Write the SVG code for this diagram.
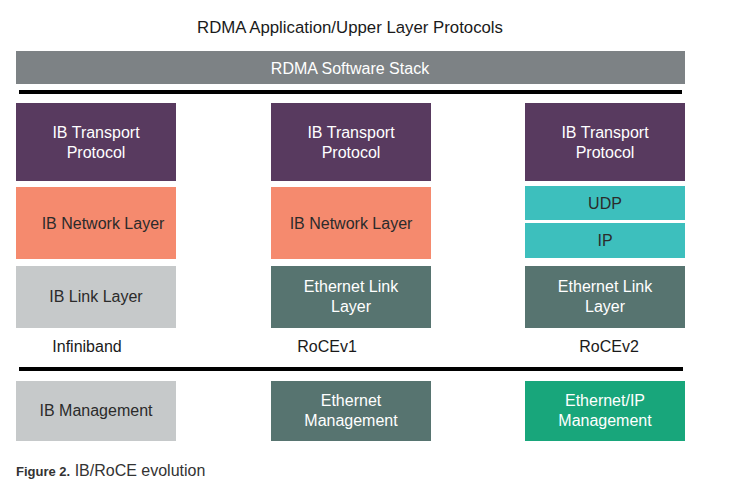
<svg xmlns="http://www.w3.org/2000/svg" width="752" height="484" viewBox="0 0 752 484">
<style>
text{font-family:"Liberation Sans",Arial,sans-serif;font-size:16px;text-anchor:middle}
.w{fill:#ffffff}
.d{fill:#2b2b2b}
.k{fill:#1a1a1a}
.purple{fill:#583A5F}
.salmon{fill:#F58A6E}
.lgray{fill:#C6C9CA}
.teal{fill:#577470}
.cyan{fill:#3DBFBD}
.green{fill:#18A67B}
.line{stroke:#000;stroke-width:4}
</style>
<rect width="752" height="484" fill="#fff"/>
<text class="k" x="350" y="33" style="font-size:16.8px">RDMA Application/Upper Layer Protocols</text>
<g id="software-stack">
<rect x="16" y="51" width="669" height="33" fill="#7D8285"/>
<text class="w" x="350" y="74">RDMA Software Stack</text>
</g>
<g id="connectors">
<line class="line" x1="19" y1="92" x2="682" y2="92"/>
<line class="line" x1="19" y1="369" x2="683" y2="369"/>
</g>
<g id="ib-transport-1"><rect class="purple" x="16" y="103" width="160" height="78"/><text class="w" x="96" y="138">IB Transport</text><text class="w" x="96" y="158">Protocol</text></g>
<g id="ib-network-1"><rect class="salmon" x="16" y="187" width="160" height="72"/><text class="d" x="103" y="229">IB Network Layer</text></g>
<g id="ib-link-1"><rect class="lgray" x="16" y="266" width="160" height="62"/><text class="d" x="96" y="302">IB Link Layer</text></g>
<g id="ib-transport-2"><rect class="purple" x="271" y="103" width="160" height="78"/><text class="w" x="351" y="138">IB Transport</text><text class="w" x="351" y="158">Protocol</text></g>
<g id="ib-network-2"><rect class="salmon" x="271" y="187" width="160" height="72"/><text class="d" x="351" y="229">IB Network Layer</text></g>
<g id="eth-link-2"><rect class="teal" x="271" y="266" width="160" height="62"/><text class="w" x="351" y="292">Ethernet Link</text><text class="w" x="351" y="312">Layer</text></g>
<g id="ib-transport-3"><rect class="purple" x="525" y="103" width="160" height="78"/><text class="w" x="605" y="138">IB Transport</text><text class="w" x="605" y="158">Protocol</text></g>
<g id="udp-3"><rect class="cyan" x="525" y="186" width="160" height="34"/><text class="d" x="605" y="209">UDP</text></g>
<g id="ip-3"><rect class="cyan" x="525" y="223" width="160" height="35"/><text class="d" x="605" y="246">IP</text></g>
<g id="eth-link-3"><rect class="teal" x="525" y="266" width="160" height="62"/><text class="w" x="605" y="292">Ethernet Link</text><text class="w" x="605" y="312">Layer</text></g>
<text class="k" x="87" y="352">Infiniband</text>
<text class="k" x="327" y="352">RoCEv1</text>
<text class="k" x="609" y="352">RoCEv2</text>
<g id="ib-mgmt"><rect class="lgray" x="16" y="381" width="160" height="60"/><text class="d" x="96" y="416">IB Management</text></g>
<g id="eth-mgmt"><rect class="teal" x="271" y="381" width="160" height="60"/><text class="w" x="351" y="406">Ethernet</text><text class="w" x="351" y="426">Management</text></g>
<g id="ethip-mgmt"><rect class="green" x="525" y="381" width="160" height="60"/><text class="w" x="605" y="406">Ethernet/IP</text><text class="w" x="605" y="426">Management</text></g>
<text x="16" y="476" style="text-anchor:start;font-size:16px" fill="#333"><tspan style="font-weight:bold;font-size:13px">Figure 2.</tspan> IB/RoCE evolution</text>
</svg>
